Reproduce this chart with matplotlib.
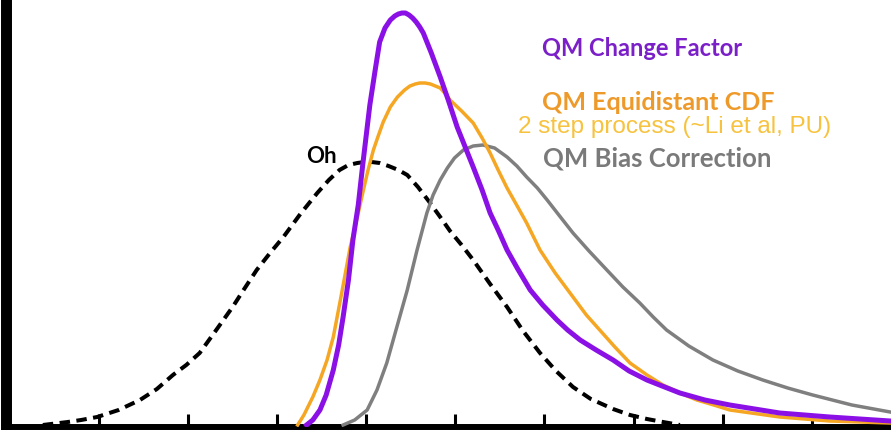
import matplotlib.pyplot as plt

# values (x in tick units, y in relative density)
oh_x = [-0.63, -0.35, -0.20, -0.02, 0.22, 0.46, 0.65, 0.83, 0.98, 1.13, 1.30, 1.50, 1.63,
        1.77, 1.92, 2.07, 2.26, 2.45, 2.58, 2.70, 2.80, 2.90, 2.98, 3.06, 3.15, 3.25,
        3.36, 3.46, 3.58, 3.70, 3.83, 3.94, 4.07, 4.20, 4.39, 4.58, 4.76, 4.95, 5.13,
        5.32, 5.52, 5.77, 5.96, 6.15, 6.33, 6.52]
oh_y = [0.00, 0.03, 0.05, 0.08, 0.15, 0.25, 0.36, 0.50, 0.60, 0.72, 0.93, 1.18, 1.36,
        1.55, 1.72, 1.88, 2.11, 2.32, 2.45, 2.55, 2.60, 2.62, 2.63, 2.63, 2.62, 2.59,
        2.55, 2.50, 2.38, 2.24, 2.08, 1.94, 1.80, 1.65, 1.41, 1.18, 0.94, 0.72, 0.54,
        0.38, 0.26, 0.16, 0.10, 0.06, 0.03, 0.00]

cf_x = [2.33, 2.40, 2.48, 2.55, 2.63, 2.69, 2.74, 2.80, 2.85, 2.91, 2.96, 3.04, 3.10,
        3.15, 3.21, 3.27, 3.32, 3.36, 3.40, 3.44, 3.48, 3.52, 3.56, 3.60, 3.64, 3.73,
        3.83, 3.92, 4.02, 4.11, 4.20, 4.30, 4.39, 4.48, 4.58, 4.70, 4.84, 4.98, 5.14,
        5.26, 5.40, 5.58, 5.77, 5.95, 6.15, 6.32, 6.52, 6.80, 7.08, 7.64, 8.20, 8.88]
cf_y = [0.00, 0.05, 0.15, 0.30, 0.55, 0.80, 1.08, 1.45, 1.85, 2.20, 2.60, 3.20, 3.55,
        3.83, 3.97, 4.05, 4.09, 4.11, 4.12, 4.12, 4.10, 4.07, 4.03, 3.98, 3.92, 3.72,
        3.48, 3.25, 2.98, 2.78, 2.58, 2.35, 2.12, 1.95, 1.75, 1.56, 1.35, 1.20, 1.05,
        0.95, 0.85, 0.75, 0.65, 0.54, 0.45, 0.39, 0.32, 0.25, 0.20, 0.12, 0.08, 0.04]

eq_x = [2.23, 2.30, 2.40, 2.48, 2.56, 2.63, 2.72, 2.82, 2.90, 2.96, 3.02, 3.08, 3.13,
        3.19, 3.27, 3.35, 3.43, 3.49, 3.55, 3.60, 3.66, 3.72, 3.83, 3.88, 3.94, 4.07,
        4.20, 4.30, 4.39, 4.48, 4.58, 4.70, 4.80, 4.95, 5.12, 5.32, 5.47, 5.62, 5.79,
        5.96, 6.15, 6.33, 6.52, 6.71, 6.90, 7.08, 7.64, 8.20, 8.88]
eq_y = [0.00, 0.10, 0.28, 0.45, 0.65, 0.88, 1.30, 1.78, 2.08, 2.32, 2.55, 2.75, 2.88,
        3.03, 3.18, 3.28, 3.35, 3.39, 3.41, 3.42, 3.42, 3.41, 3.37, 3.32, 3.25, 3.14,
        3.02, 2.87, 2.72, 2.55, 2.37, 2.18, 2.02, 1.75, 1.52, 1.28, 1.10, 0.95, 0.78,
        0.62, 0.50, 0.40, 0.32, 0.25, 0.20, 0.15, 0.08, 0.04, 0.02]

bc_x = [2.74, 2.87, 3.01, 3.12, 3.23, 3.34, 3.46, 3.57, 3.68, 3.75, 3.83, 3.91, 3.99,
        4.09, 4.20, 4.31, 4.44, 4.58, 4.69, 4.80, 4.92, 5.03, 5.17, 5.32, 5.50, 5.70,
        5.88, 6.07, 6.22, 6.37, 6.62, 6.89, 7.17, 7.45, 7.73, 8.01, 8.45, 8.88]
bc_y = [0.00, 0.05, 0.15, 0.35, 0.62, 0.97, 1.35, 1.75, 2.12, 2.30, 2.45, 2.57, 2.67,
        2.75, 2.79, 2.80, 2.77, 2.68, 2.59, 2.48, 2.37, 2.25, 2.09, 1.92, 1.74, 1.55,
        1.38, 1.22, 1.08, 0.95, 0.79, 0.65, 0.54, 0.45, 0.37, 0.30, 0.20, 0.13]

ticks = [0, 1, 2, 3, 4, 5, 6, 7, 8]

fig = plt.figure(figsize=(8.91, 4.30), dpi=100)
ax = fig.add_axes([5.5 / 891, 3 / 430, 1 - 5.5 / 891, 424 / 430])

ax.plot(oh_x, oh_y, color='black', linewidth=2.9, dashes=(2.6, 1.6),
        dash_capstyle='butt', dash_joinstyle='round', zorder=2)
ax.plot(bc_x, bc_y, color='#7f7f7f', linewidth=2.5, solid_joinstyle='round', zorder=3)
ax.plot(eq_x, eq_y, color='#f5a623', linewidth=2.5, solid_joinstyle='round', zorder=4)
ax.plot(cf_x, cf_y, color='#8a10e6', linewidth=3.6, solid_joinstyle='round', zorder=5)

# labels
ax.text(4.97, 3.69, 'QM Change Factor', color='#7b1fc8', fontsize=17,
        fontweight='bold', family='Lato', va='baseline')
ax.text(4.97, 3.15, 'QM Equidistant CDF', color='#ee9a2a', fontsize=18,
        fontweight='bold', family='Lato', va='baseline')
ax.text(4.70, 2.92, '2 step process (~Li et al, PU)', color='#f7c23e', fontsize=17.5,
        family='Liberation Sans', va='baseline')
ax.text(4.98, 2.58, 'QM Bias Correction', color='#7a7a7a', fontsize=18.5,
        fontweight='bold', family='Lato', va='baseline')
ax.text(2.33, 2.62, 'Oh', color='black', fontsize=16, fontweight='bold',
        family='Lato', va='baseline')

ax.set_xlim(-1.049, 8.889)
ax.set_ylim(-0.02, 4.22)
ax.set_xticks(ticks)
ax.set_xticklabels([])
ax.set_yticks([])
ax.tick_params(axis='x', direction='in', length=9.5, width=2.2, color='black')

ax.spines['top'].set_visible(False)
ax.spines['right'].set_visible(False)
ax.spines['left'].set_linewidth(7.9)
ax.spines['bottom'].set_linewidth(4.3)

fig.savefig('out.png', dpi=100)
